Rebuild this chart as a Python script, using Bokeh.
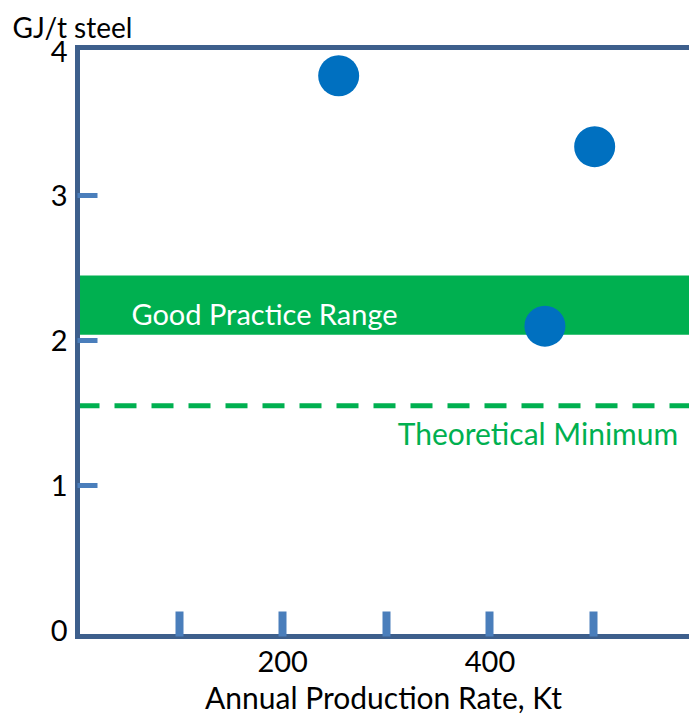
from bokeh.plotting import figure
from bokeh.models import Range1d, FixedTicker, LinearAxis, BoxAnnotation, Span, Label
from bokeh.embed import file_html
from bokeh.resources import INLINE

# data
production = [254, 501, 453]          # Annual production rate, Kt
energy = [3.83, 3.34, 2.10]           # GJ/t steel
good_low, good_high = 2.04, 2.45      # Good practice range
theoretical_min = 1.55
x_label_ticks = [200, 400]
x_mark_ticks = [100, 200, 300, 400, 500]
y_label_ticks = [0, 1, 2, 3, 4]
y_mark_ticks = [1, 2, 3]

FRAME = "#3D5F8C"
TICK = "#4A7EBB"
GREEN = "#00B050"
BLUE = "#0070C0"
FONT = "Lato"

p = figure(width=689, height=717, output_backend="svg", toolbar_location=None,
           x_range=Range1d(2, 592.5), y_range=Range1d(-0.044, 4.025),
           min_border_left=77, min_border_right=0, min_border_top=47, min_border_bottom=79)
p.grid.visible = False
p.outline_line_color = None
p.background_fill_color = "white"
p.border_fill_color = "white"

p.title.text = "GJ/t steel"
p.title.align = "left"
p.title.offset = -65
p.title.standoff = 8
p.title.text_font = FONT
p.title.text_font_size = "28px"
p.title.text_font_style = "normal"
p.title.text_color = "black"

xa = p.xaxis[0]
xa.ticker = FixedTicker(ticks=x_label_ticks, minor_ticks=x_mark_ticks)
xa.axis_line_color = FRAME
xa.axis_line_width = 5
xa.axis_line_cap = "square"
xa.major_tick_line_color = None
xa.major_tick_in = 0
xa.major_tick_out = 0
xa.minor_tick_line_color = TICK
xa.minor_tick_line_width = 8
xa.minor_tick_in = 25
xa.minor_tick_out = 0
xa.major_label_text_font = FONT
xa.major_label_text_font_size = "29px"
xa.major_label_text_color = "black"
xa.major_label_standoff = 14
xa.axis_label = "Annual Production Rate, Kt"
xa.axis_label_text_font = FONT
xa.axis_label_text_font_size = "30px"
xa.axis_label_text_font_style = "normal"
xa.axis_label_text_color = "black"
xa.axis_label_standoff = 4

ya = p.yaxis[0]
ya.ticker = FixedTicker(ticks=y_label_ticks, minor_ticks=y_mark_ticks)
ya.axis_line_color = FRAME
ya.axis_line_width = 5
ya.axis_line_cap = "square"
ya.major_tick_line_color = None
ya.major_tick_in = 0
ya.major_tick_out = 0
ya.minor_tick_line_color = TICK
ya.minor_tick_line_width = 5
ya.minor_tick_in = 20
ya.minor_tick_out = 0
ya.major_label_text_font = FONT
ya.major_label_text_font_size = "29px"
ya.major_label_text_color = "black"
ya.major_label_standoff = 10

top = LinearAxis(ticker=FixedTicker(ticks=[]), axis_line_color=FRAME, axis_line_width=5,
                 axis_line_cap="square", major_tick_line_color=None, minor_tick_line_color=None,
                 major_label_text_color=None, major_tick_in=0, major_tick_out=0)
p.add_layout(top, "above")

band = BoxAnnotation(bottom=good_low, top=good_high, fill_color=GREEN, fill_alpha=1.0,
                     line_color=None, level="underlay")
p.add_layout(band)

dash = Span(location=theoretical_min, dimension="width", line_color=GREEN, line_width=5,
            line_dash="22 15", level="underlay")
p.add_layout(dash)

p.scatter(production, energy, size=41, color=BLUE, line_color=None)

p.add_layout(Label(x=54, y=2.19, text="Good Practice Range", text_color="white",
                   text_font=FONT, text_font_size="29px", text_baseline="alphabetic"))
p.add_layout(Label(x=311, y=1.365, text="Theoretical Minimum", text_color=GREEN,
                   text_font=FONT, text_font_size="30px", text_baseline="alphabetic"))

open("out.html", "w").write(file_html(p, INLINE))
